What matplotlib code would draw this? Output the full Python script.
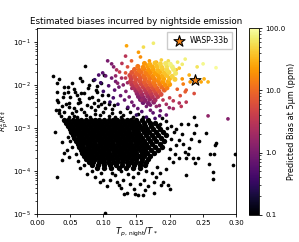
import numpy as np
import matplotlib.pyplot as plt
from matplotlib.colors import LogNorm

# planets whose bias falls below the colour scale: (T_night/T*, log10(Rp^2/R*^2))
upper_black = [
    (0.024, -1.79), (0.033, -1.86), (0.030, -1.95), (0.0465, -2.05), (0.0525, -1.95),
    (0.0645, -1.84), (0.0675, -1.91), (0.072, -1.56), (0.084, -1.88), (0.0465, -2.16),
    (0.0555, -2.09), (0.039, -2.28), (0.0315, -2.40), (0.066, -2.19), (0.0765, -2.07),
    (0.0885, -2.12), (0.096, -1.95), (0.1005, -1.77), (0.0915, -2.35), (0.078, -2.30),
    (0.0615, -2.42), (0.048, -2.51), (0.0285, -2.58), (0.1065, -2.23), (0.030, -2.16),
    (0.0405, -2.19), (0.0495, -2.28), (0.060, -2.23), (0.0705, -2.19), (0.0825, -2.28),
    (0.090, -2.16), (0.0975, -2.23), (0.030, -2.35), (0.048, -2.42), (0.0645, -2.40),
    (0.075, -2.47), (0.0855, -2.42), (0.1005, -2.40), (0.033, -2.58), (0.0555, -2.53),
    (0.0705, -2.63), (0.087, -2.58), (0.102, -2.53), (0.1155, -2.47), (0.036, -2.72),
    (0.048, -2.74), (0.060, -2.74), (0.0795, -2.74), (0.0945, -2.70), (0.1125, -2.65),
    (0.1245, -2.63), (0.135, -2.53), (0.063, -2.32), (0.092, -2.50), (0.108, -2.45),
    (0.0405, -2.62), (0.052, -2.66), (0.066, -2.55), (0.100, -2.62), (0.108, -2.72),
    (0.118, -2.75), (0.130, -2.70), (0.140, -2.62), (0.145, -2.75), (0.152, -2.68),
    (0.160, -2.74), (0.088, -2.68), (0.0735, -2.70), (0.0555, -2.72), (0.044, -2.45),
    (0.058, -2.60), (0.081, -2.52), (0.097, -2.45), (0.113, -2.57), (0.126, -2.75),
    (0.037, -2.50), (0.057, -2.17), (0.0405, -2.05), (0.079, -2.00), (0.090, -2.02),
    (0.033, -2.65),
]

left_black = [
    (0.027, -3.09), (0.0375, -3.33), (0.045, -3.51), (0.040, -3.58), (0.048, -3.67),
    (0.0375, -3.74), (0.030, -4.14), (0.050, -3.30), (0.047, -3.20), (0.052, -3.45),
    (0.058, -3.60), (0.061, -3.78),
]

tail_black = [
    (0.0645, -3.93), (0.0705, -3.86), (0.075, -4.07), (0.087, -4.14), (0.0945, -4.26),
    (0.099, -4.22), (0.102, -4.98), (0.120, -4.26), (0.123, -4.33), (0.126, -4.40),
    (0.1305, -4.53), (0.136, -4.51), (0.1455, -4.42), (0.147, -4.53), (0.153, -4.56),
    (0.160, -4.56), (0.163, -4.45), (0.177, -4.51), (0.168, -4.35), (0.176, -4.25),
    (0.162, -4.20), (0.155, -4.30), (0.145, -4.15), (0.140, -4.30), (0.130, -4.20),
    (0.118, -4.10), (0.110, -4.20), (0.105, -4.35), (0.186, -4.05), (0.180, -4.15),
    (0.174, -4.05), (0.1815, -3.90), (0.195, -3.95), (0.2055, -3.80), (0.1995, -3.70),
    (0.1875, -4.33), (0.190, -4.26), (0.198, -4.33), (0.200, -4.42), (0.225, -4.09),
    (0.2655, -4.02), (0.2655, -4.19), (0.113, -4.05), (0.096, -4.05), (0.083, -4.00),
    (0.152, -4.05), (0.137, -4.08), (0.127, -4.00), (0.165, -4.00),
]

right_black = [
    (0.237, -2.74), (0.240, -2.93), (0.228, -2.90), (0.255, -3.12), (0.237, -3.12),
    (0.2445, -3.30), (0.270, -3.35), (0.210, -3.02), (0.2145, -3.28), (0.2295, -3.47),
    (0.2985, -3.60), (0.2955, -3.86), (0.2685, -3.40), (0.261, -3.60), (0.267, -3.60),
    (0.260, -3.84), (0.225, -3.70), (0.235, -3.70), (0.243, -3.70), (0.2385, -3.81),
    (0.228, -3.60), (0.2025, -2.95), (0.207, -3.10), (0.2025, -3.25), (0.210, -3.40),
    (0.219, -3.15), (0.2205, -3.38), (0.2235, -3.55), (0.2325, -3.25), (0.2175, -2.90),
    (0.201, -3.50), (0.2085, -3.60), (0.2145, -3.70), (0.195, -2.85), (0.188, -2.78),
    (0.186, -2.90), (0.196, -3.00),
]

# dense black core, one row per depth level
core_logy = [-2.81, -2.88, -2.95, -3.02, -3.09, -3.16, -3.23, -3.30, -3.37,
             -3.44, -3.51, -3.58, -3.65, -3.72, -3.79, -3.86, -3.94]
core_x = [
    [0.040, 0.047, 0.054, 0.060, 0.067, 0.074, 0.081, 0.087, 0.094, 0.101, 0.108, 0.114, 0.121, 0.128, 0.135, 0.142, 0.150, 0.158, 0.167],
    [0.044, 0.050, 0.057, 0.064, 0.070, 0.077, 0.084, 0.091, 0.097, 0.104, 0.111, 0.118, 0.124, 0.131, 0.138, 0.145, 0.153, 0.161, 0.170, 0.178],
    [0.046, 0.053, 0.060, 0.066, 0.073, 0.080, 0.087, 0.093, 0.100, 0.107, 0.114, 0.120, 0.127, 0.134, 0.141, 0.148, 0.155, 0.163, 0.172, 0.182],
    [0.049, 0.056, 0.062, 0.069, 0.076, 0.083, 0.089, 0.096, 0.103, 0.110, 0.116, 0.123, 0.130, 0.137, 0.144, 0.151, 0.158, 0.166, 0.175, 0.186],
    [0.051, 0.058, 0.065, 0.071, 0.078, 0.085, 0.092, 0.098, 0.105, 0.112, 0.119, 0.125, 0.132, 0.139, 0.146, 0.153, 0.161, 0.169, 0.179, 0.190],
    [0.054, 0.061, 0.067, 0.074, 0.081, 0.088, 0.094, 0.101, 0.108, 0.115, 0.121, 0.128, 0.135, 0.142, 0.149, 0.156, 0.164, 0.173, 0.183, 0.194],
    [0.056, 0.063, 0.070, 0.077, 0.083, 0.090, 0.097, 0.104, 0.110, 0.117, 0.124, 0.131, 0.137, 0.144, 0.151, 0.159, 0.167, 0.176, 0.187],
    [0.059, 0.066, 0.072, 0.079, 0.086, 0.093, 0.099, 0.106, 0.113, 0.120, 0.126, 0.133, 0.140, 0.147, 0.154, 0.162, 0.170, 0.180, 0.192],
    [0.061, 0.068, 0.075, 0.082, 0.088, 0.095, 0.102, 0.109, 0.115, 0.122, 0.129, 0.136, 0.142, 0.149, 0.157, 0.165, 0.174, 0.185],
    [0.063, 0.070, 0.077, 0.084, 0.091, 0.098, 0.104, 0.111, 0.118, 0.125, 0.131, 0.138, 0.145, 0.152, 0.160, 0.168, 0.178, 0.189],
    [0.066, 0.073, 0.080, 0.086, 0.093, 0.100, 0.107, 0.114, 0.120, 0.127, 0.134, 0.141, 0.148, 0.155, 0.163, 0.172, 0.182],
    [0.068, 0.075, 0.082, 0.089, 0.096, 0.103, 0.109, 0.116, 0.123, 0.130, 0.137, 0.143, 0.150, 0.158, 0.166, 0.176],
    [0.071, 0.078, 0.085, 0.092, 0.098, 0.105, 0.112, 0.119, 0.126, 0.133, 0.139, 0.146, 0.154, 0.162, 0.171],
    [0.074, 0.081, 0.088, 0.095, 0.101, 0.108, 0.115, 0.122, 0.129, 0.136, 0.143, 0.150, 0.158, 0.167],
    [0.078, 0.085, 0.093, 0.100, 0.107, 0.114, 0.121, 0.128, 0.135, 0.142, 0.149, 0.157, 0.165],
    [0.083, 0.092, 0.101, 0.110, 0.119, 0.128, 0.137, 0.146, 0.155, 0.163],
    [0.090, 0.101, 0.112, 0.123, 0.134, 0.145, 0.156],
]

# planets on the colour scale: (T_night/T*, log10(Rp^2/R*^2), bias in ppm)
warm_edge = [
    # sparse upper / right
    (0.135, -1.09, 25), (0.1605, -1.12, 55), (0.1755, -1.03, 70), (0.153, -1.24, 22),
    (0.1335, -1.33, 3), (0.156, -1.35, 18), (0.1425, -1.44, 8), (0.1695, -1.44, 20),
    (0.180, -1.47, 28), (0.1875, -1.42, 45), (0.198, -1.44, 55), (0.212, -1.47, 65),
    (0.219, -1.52, 70), (0.2235, -1.40, 75), (0.2415, -1.58, 60), (0.2505, -1.51, 85),
    (0.270, -1.60, 90), (0.210, -1.65, 40), (0.2145, -1.61, 40), (0.2295, -1.77, 30),
    (0.252, -1.86, 30), (0.258, -1.93, 30), (0.231, -1.93, 20), (0.2475, -1.93, 25),
    (0.219, -1.86, 20), (0.2205, -1.98, 14), (0.2115, -2.10, 9), (0.2235, -2.16, 8),
    (0.225, -2.12, 8), (0.237, -2.20, 6), (0.216, -2.25, 6), (0.2055, -2.37, 3),
    (0.225, -2.40, 3), (0.2145, -2.42, 2.5), (0.2175, -2.50, 3), (0.200, -2.30, 4),
    (0.190, -2.35, 3), (0.195, -2.45, 2.2), (0.2055, -2.55, 2), (0.1995, -2.53, 1.5),
    (0.186, -2.60, 0.8), (0.1845, -2.48, 1.5), (0.180, -2.50, 1.5), (0.171, -2.47, 1.0),
    (0.165, -2.50, 0.9), (0.175, -2.65, 0.6), (0.158, -2.62, 0.5), (0.195, -2.70, 0.7),
    (0.258, -2.72, 1.5), (0.288, -2.79, 1.2), (0.1575, -2.35, 1.8), (0.171, -2.59, 0.8),
    (0.165, -2.75, 0.35), (0.178, -2.78, 0.4), (0.150, -2.70, 0.3), (0.185, -2.72, 0.5),
    # left fringe
    (0.1065, -1.44, 1.0), (0.1125, -1.51, 1.1), (0.1155, -1.58, 1.2), (0.120, -1.65, 2.5),
    (0.1245, -1.70, 4), (0.1335, -1.72, 7), (0.1365, -1.58, 6), (0.093, -1.77, 0.5),
    (0.099, -1.72, 0.6), (0.1035, -1.79, 0.7), (0.1125, -1.84, 0.9), (0.1185, -1.79, 1.6),
    (0.1275, -1.84, 2.2), (0.1335, -1.84, 3.5), (0.1215, -1.96, 1.3), (0.1185, -1.92, 0.9),
    (0.1235, -2.05, 0.9), (0.130, -2.00, 1.3), (0.1365, -1.95, 1.9), (0.117, -2.12, 0.6),
    (0.134, -2.15, 1.1), (0.126, -2.25, 0.7), (0.139, -2.28, 1.0), (0.143, -2.40, 0.9),
    (0.132, -2.35, 0.7), (0.115, -2.30, 0.45), (0.108, -2.02, 0.5), (0.096, -1.95, 0.35),
    (0.087, -1.88, 0.3), (0.100, -2.15, 0.35), (0.146, -2.48, 0.8), (0.152, -2.55, 0.7),
    (0.110, -2.40, 0.3), (0.122, -2.45, 0.35), (0.137, -2.52, 0.45), (0.128, -1.50, 3),
    (0.143, -2.08, 1.8),
]

warm_core = [
    (0.162, -1.50, 20), (0.170, -1.52, 28), (0.178, -1.49, 36), (0.186, -1.51, 48),
    (0.194, -1.50, 62), (0.201, -1.52, 75),
    (0.152, -1.57, 13), (0.160, -1.59, 17), (0.167, -1.56, 22), (0.174, -1.58, 27),
    (0.181, -1.57, 35), (0.188, -1.59, 44), (0.196, -1.56, 56), (0.204, -1.58, 70),
    (0.147, -1.64, 9.5), (0.154, -1.66, 12), (0.161, -1.63, 15), (0.168, -1.65, 19),
    (0.175, -1.64, 24), (0.182, -1.66, 31), (0.189, -1.63, 39), (0.196, -1.65, 50),
    (0.206, -1.64, 65),
    (0.143, -1.71, 7), (0.150, -1.73, 9), (0.157, -1.70, 11), (0.164, -1.72, 14),
    (0.171, -1.71, 18), (0.178, -1.73, 23), (0.185, -1.70, 29), (0.192, -1.72, 37),
    (0.199, -1.71, 47), (0.209, -1.73, 62),
    (0.140, -1.78, 5.2), (0.147, -1.80, 6.7), (0.154, -1.77, 8.6), (0.161, -1.79, 11),
    (0.168, -1.78, 14), (0.175, -1.80, 17.5), (0.182, -1.77, 22), (0.189, -1.79, 28),
    (0.196, -1.78, 36), (0.204, -1.80, 47),
    (0.142, -1.85, 4.6), (0.149, -1.87, 6), (0.156, -1.84, 7.6), (0.163, -1.86, 9.8),
    (0.170, -1.85, 12.5), (0.177, -1.87, 15.5), (0.184, -1.84, 20), (0.191, -1.86, 25),
    (0.200, -1.85, 33), (0.208, -1.87, 44),
    (0.141, -1.92, 3.8), (0.148, -1.94, 4.9), (0.155, -1.91, 6.2), (0.162, -1.93, 8),
    (0.169, -1.92, 10), (0.176, -1.94, 12.8), (0.183, -1.91, 16), (0.190, -1.93, 20),
    (0.198, -1.92, 26),
    (0.143, -1.99, 3.3), (0.150, -2.01, 4.2), (0.157, -1.98, 5.4), (0.164, -2.00, 6.8),
    (0.171, -1.99, 8.7), (0.178, -2.01, 11), (0.185, -1.98, 14), (0.193, -2.00, 18),
    (0.200, -1.99, 22),
    (0.146, -2.06, 2.7), (0.153, -2.08, 3.4), (0.160, -2.05, 4.3), (0.167, -2.07, 5.4),
    (0.174, -2.06, 6.8), (0.181, -2.08, 8.6), (0.188, -2.05, 11), (0.196, -2.07, 14),
    (0.149, -2.13, 2.1), (0.156, -2.15, 2.7), (0.163, -2.12, 3.4), (0.170, -2.14, 4.3),
    (0.177, -2.13, 5.5), (0.184, -2.15, 7), (0.192, -2.12, 9),
    (0.151, -2.20, 1.6), (0.158, -2.22, 2.1), (0.165, -2.19, 2.7), (0.172, -2.21, 3.4),
    (0.179, -2.20, 4.3), (0.187, -2.22, 5.6),
    (0.153, -2.27, 1.3), (0.160, -2.29, 1.6), (0.167, -2.26, 2.1), (0.174, -2.28, 2.7),
    (0.182, -2.27, 3.5),
    (0.156, -2.34, 1.0), (0.163, -2.36, 1.3), (0.170, -2.33, 1.7), (0.178, -2.35, 2.2),
    (0.160, -2.41, 0.85), (0.168, -2.43, 1.1), (0.176, -2.40, 1.4),
]

wasp33_x = 0.2385
wasp33_depth = 1.31e-2
wasp33_bias = 15

# ---- assemble
sparse = upper_black + left_black + tail_black + right_black
bx = np.array([p[0] for p in sparse])
bdepth = 10 ** np.array([p[1] for p in sparse])
cx, cy = [], []
for ly, row in zip(core_logy, core_x):
    cx += row
    cy += [ly] * len(row)
cx = np.array(cx)
cdepth = 10 ** np.array(cy)

# fringe points drawn small, dense core a bit bigger so it reads as a solid cloud
warm = [p + (7,) for p in warm_edge] + [p + (13,) for p in warm_core]
warm = sorted(warm, key=lambda p: p[2])
wx = np.array([p[0] for p in warm])
wdepth = 10 ** np.array([p[1] for p in warm])
wbias = np.array([p[2] for p in warm])
wsize = np.array([p[3] for p in warm])

norm = LogNorm(vmin=0.1, vmax=100)

fig = plt.figure(figsize=(2.99, 2.42), dpi=100)
ax = fig.add_axes([0.124, 0.116, 0.665, 0.768])
cax = fig.add_axes([0.833, 0.112, 0.033, 0.772])

ax.scatter(bx, bdepth, s=7, c='black', linewidths=0)
ax.scatter(cx, cdepth, s=15, c='black', linewidths=0)
sc = ax.scatter(wx, wdepth, c=wbias, s=wsize, cmap='inferno', norm=norm, linewidths=0)
ax.scatter([wasp33_x], [wasp33_depth], c=[wasp33_bias], cmap='inferno', norm=norm,
           marker='*', s=70, edgecolors='black', linewidths=0.8, zorder=5, label='WASP-33b')

ax.set_yscale('log')
ax.set_xlim(0, 0.3)
ax.set_ylim(1e-5, 0.21)
ax.set_xticks([0.0, 0.05, 0.10, 0.15, 0.20, 0.25, 0.30])
ax.xaxis.set_major_formatter(plt.FormatStrFormatter('%.2f'))
ax.tick_params(labelsize=5.0, length=2.5, width=0.6, pad=2)
ax.tick_params(which='minor', length=1.5, width=0.5)
for sp in ax.spines.values():
    sp.set_linewidth(0.6)

ax.set_title('Estimated biases incurred by nightside emission', fontsize=6.3, pad=3)
ax.set_xlabel(r'$T_{p,\,\mathrm{night}}/T_*$', fontsize=6.2, labelpad=0)
ax.set_ylabel(r'$R_p^2/R_*^2$', fontsize=5.3)
ax.yaxis.set_label_coords(-0.125, 0.5)
ax.legend(loc='upper right', fontsize=5.5, handletextpad=0.4, borderpad=0.5,
          fancybox=False, framealpha=1, edgecolor='#cccccc')

cb = fig.colorbar(sc, cax=cax, ticks=[0.1, 1, 10, 100], format='%.1f')
cb.set_label('Predicted Bias at 5μm (ppm)', fontsize=5.9, labelpad=1)
cb.ax.tick_params(labelsize=5.0, length=2.5, width=0.6, pad=2)
cb.ax.tick_params(which='minor', length=1.5, width=0.5)
cb.outline.set_linewidth(0.6)

fig.savefig('out.png', dpi=100)
